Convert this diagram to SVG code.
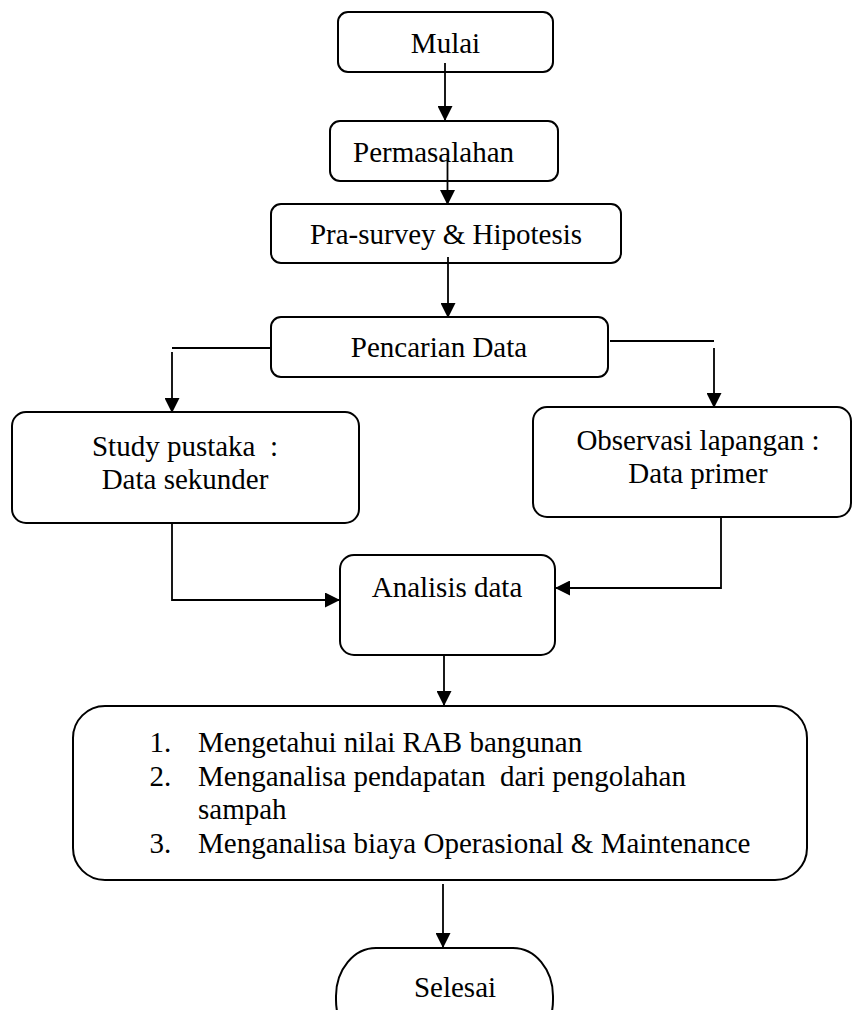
<svg xmlns="http://www.w3.org/2000/svg" width="853" height="1010" viewBox="0 0 853 1010">
<style>
.box{fill:#fff;stroke:#000;stroke-width:2}
.ln{fill:none;stroke:#000;stroke-width:1.8}
.arr{fill:none;stroke:#000;stroke-width:1.8;marker-end:url(#ah)}
text{font-family:"Liberation Serif","Times New Roman",serif;font-size:29px;fill:#000}
.c{text-anchor:middle}
</style>
<defs>
<marker id="ah" markerUnits="userSpaceOnUse" markerWidth="15" markerHeight="15" refX="15" refY="7.5" orient="auto">
<path d="M0,0 L15,7.5 L0,15 z" fill="#000"/>
</marker>
</defs>
<rect width="853" height="1010" fill="#fff"/>
<g id="mulai"><rect class="box" x="338" y="12" width="215" height="60" rx="10"/><text class="c" x="445.5" y="53">Mulai</text></g>
<g id="permasalahan"><rect class="box" x="330" y="121" width="228" height="60" rx="10"/><text x="353" y="162">Permasalahan</text></g>
<g id="prasurvey"><rect class="box" x="271" y="204" width="350" height="59" rx="10"/><text class="c" x="446" y="244">Pra-survey &amp; Hipotesis</text></g>
<g id="pencarian"><rect class="box" x="271" y="317" width="337" height="60" rx="10"/><text class="c" x="439" y="357">Pencarian Data</text></g>
<g id="study"><rect class="box" x="12" y="412" width="347" height="111" rx="14"/><text class="c" x="185" y="456" xml:space="preserve">Study pustaka  :</text><text class="c" x="185" y="489">Data sekunder</text></g>
<g id="observasi"><rect class="box" x="533" y="407" width="318" height="110" rx="14"/><text class="c" x="698" y="450">Observasi lapangan :</text><text class="c" x="698" y="483">Data primer</text></g>
<g id="analisis"><rect class="box" x="340" y="555" width="215" height="100" rx="14"/><text class="c" x="447" y="597">Analisis data</text></g>
<g id="hasil"><rect class="box" x="73" y="706" width="734" height="174" rx="32"/>
<text x="149.5" y="752">1.</text><text x="198" y="752">Mengetahui nilai RAB bangunan</text>
<text x="149.5" y="786">2.</text><text x="198" y="786" xml:space="preserve">Menganalisa pendapatan  dari pengolahan</text>
<text x="198" y="819">sampah</text>
<text x="149.5" y="853">3.</text><text x="198" y="853">Menganalisa biaya Operasional &amp; Maintenance</text></g>
<g id="selesai"><rect class="box" x="336" y="948" width="217" height="100" rx="40" ry="48"/><text class="c" x="455" y="997">Selesai</text></g>
<g id="connectors">
<line class="arr" x1="445" y1="63" x2="445" y2="121"/>
<line class="arr" x1="447.5" y1="158" x2="447.5" y2="205"/>
<line class="arr" x1="448" y1="257" x2="448" y2="318"/>
<line class="ln" x1="271" y1="348" x2="172" y2="348"/>
<line class="arr" x1="172" y1="352" x2="172" y2="413"/>
<line class="ln" x1="610" y1="341" x2="714" y2="341"/>
<line class="arr" x1="714" y1="348" x2="714" y2="408"/>
<polyline class="arr" points="172,523 172,600 340,600"/>
<polyline class="arr" points="721,517 721,588 555,588"/>
<line class="arr" x1="444" y1="655" x2="444" y2="706"/>
<line class="arr" x1="443" y1="884" x2="443" y2="948"/>
</g>
</svg>
